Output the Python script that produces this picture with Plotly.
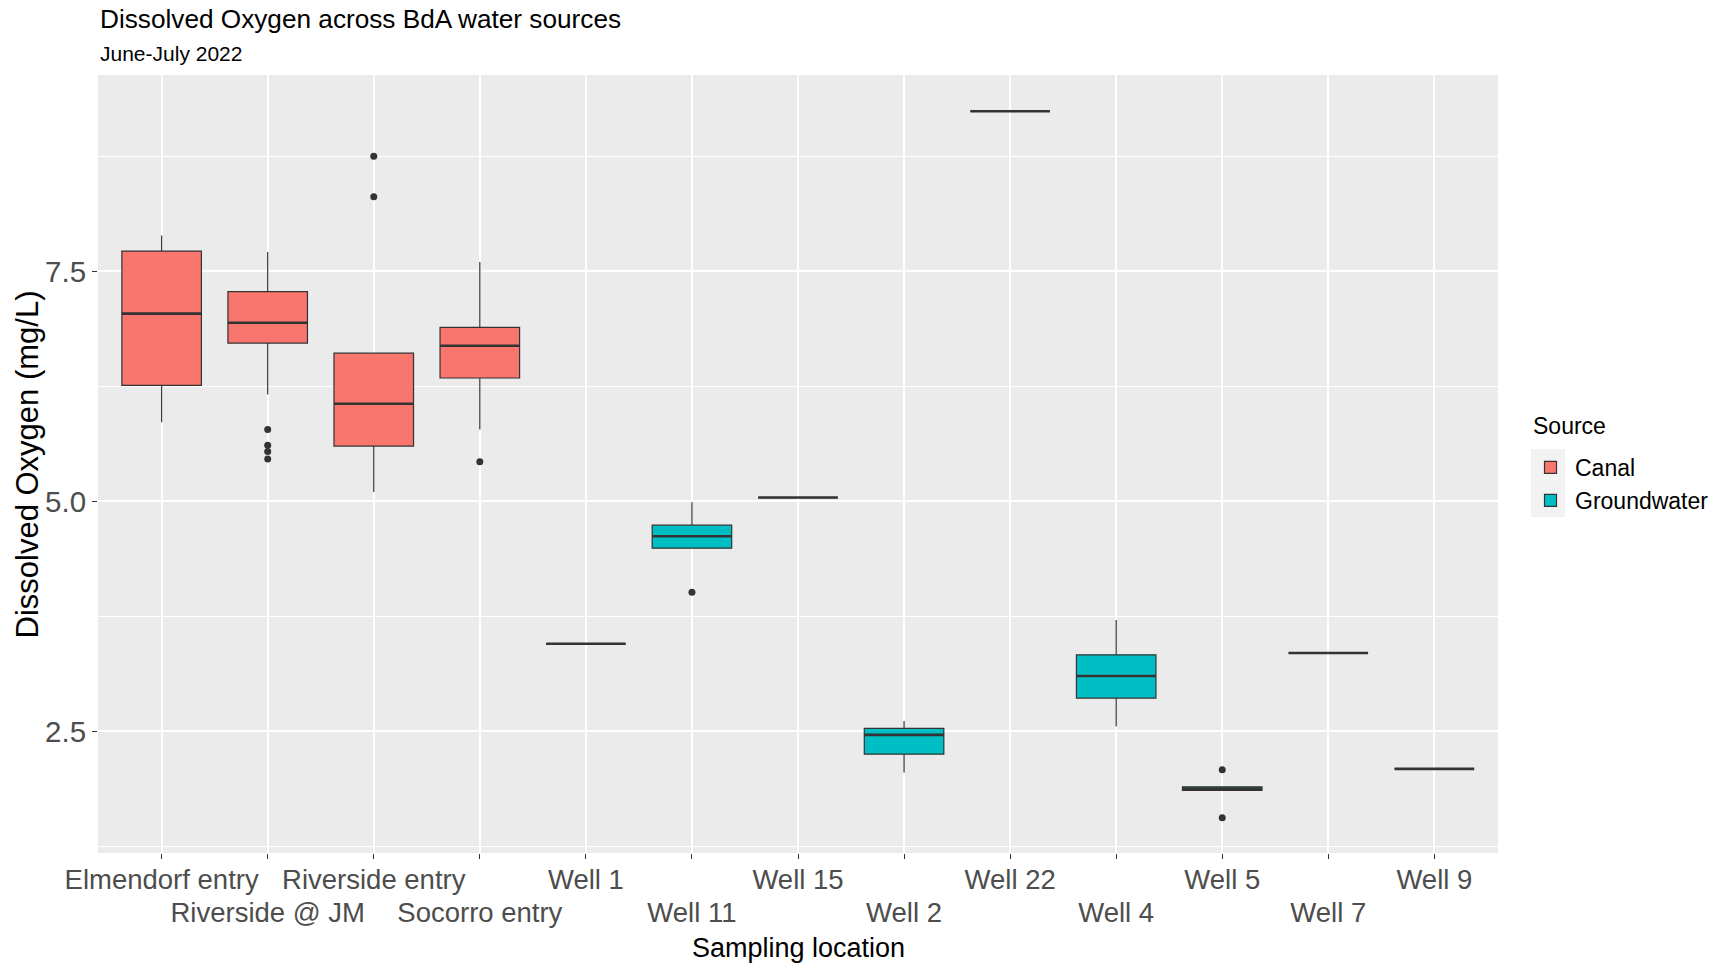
import plotly.graph_objects as go

# Sampling locations and their water source
locations = ["Elmendorf entry", "Riverside @ JM", "Riverside entry", "Socorro entry",
             "Well 1", "Well 11", "Well 15", "Well 2", "Well 22", "Well 4",
             "Well 5", "Well 7", "Well 9"]
sources = ["Canal"] * 4 + ["Groundwater"] * 9

# Box statistics of dissolved oxygen (mg/L) per location
lower_whisker = [5.86, 6.16, 5.10, 5.78, 3.45, 4.49, 5.04, 2.05, 9.24, 2.55, 1.855, 3.35, 2.09]
q1 = [6.26, 6.72, 5.60, 6.34, 3.45, 4.49, 5.04, 2.25, 9.24, 2.86, 1.855, 3.35, 2.09]
median = [7.04, 6.94, 6.06, 6.69, 3.45, 4.62, 5.04, 2.46, 9.24, 3.10, 1.875, 3.35, 2.09]
q3 = [7.72, 7.28, 6.61, 6.89, 3.45, 4.74, 5.04, 2.53, 9.24, 3.33, 1.895, 3.35, 2.09]
upper_whisker = [7.89, 7.71, 6.61, 7.60, 3.45, 4.99, 5.04, 2.61, 9.24, 3.71, 1.895, 3.35, 2.09]

# Outlying observations
outlier_location = ["Riverside @ JM"] * 4 + ["Riverside entry"] * 2 + \
                   ["Socorro entry", "Well 11", "Well 5", "Well 5"]
outlier_value = [5.78, 5.61, 5.54, 5.46, 8.75, 8.31, 5.43, 4.01, 2.08, 1.56]

y_ticks = [2.5, 5.0, 7.5]
y_tick_labels = ["2.5", "5.0", "7.5"]

source_colors = {"Canal": "#F8766D", "Groundwater": "#00BFC4"}
FONT = "Liberation Sans, Arial, sans-serif"
INK = "#333333"
BOX_W = 0.75

pos = {loc: i for i, loc in enumerate(locations)}
x_range = [-0.6, len(locations) - 0.4]

fig = go.Figure()

for src, col in source_colors.items():
    idx = [i for i, s in enumerate(sources) if s == src]
    fig.add_trace(go.Box(
        name=src,
        x=[pos[locations[i]] for i in idx],
        q1=[q1[i] for i in idx],
        median=[median[i] for i in idx],
        q3=[q3[i] for i in idx],
        lowerfence=[lower_whisker[i] for i in idx],
        upperfence=[upper_whisker[i] for i in idx],
        width=BOX_W,
        whiskerwidth=0,
        boxpoints=False,
        fillcolor=col,
        line=dict(color=INK, width=1.2),
        hoverinfo="skip",
    ))

# Thicker median bars
mx, my = [], []
for loc, m in zip(locations, median):
    p = pos[loc]
    mx += [p - BOX_W / 2, p + BOX_W / 2, None]
    my += [m, m, None]
fig.add_trace(go.Scatter(x=mx, y=my, mode="lines", line=dict(color=INK, width=2.6),
                         showlegend=False, hoverinfo="skip"))

# Outlier points
fig.add_trace(go.Scatter(
    x=[pos[l] for l in outlier_location], y=outlier_value, mode="markers",
    marker=dict(color=INK, size=7), showlegend=False, hoverinfo="skip"))

# Category labels dodged over two rows: even positions on the upper row,
# odd positions on a second, overlaid axis pushed one row lower
upper_text = [loc if i % 2 == 0 else "" for i, loc in enumerate(locations)]
lower_vals = [i for i in range(len(locations)) if i % 2 == 1]
lower_text = [locations[i] for i in lower_vals]

# invisible carrier so the second x axis gets drawn
fig.add_trace(go.Scatter(x=lower_vals, y=[median[i] for i in lower_vals], xaxis="x2",
                         mode="markers", marker=dict(opacity=0), showlegend=False,
                         hoverinfo="skip"))

tick_font = dict(size=27.5, color="#4D4D4D")

fig.update_layout(
    width=1723, height=965,
    margin=dict(l=98, r=225, t=75, b=112),
    paper_bgcolor="white",
    plot_bgcolor="#EBEBEB",
    font=dict(family=FONT, color="black"),
    boxmode="overlay",
    showlegend=True,
    legend=dict(
        font=dict(size=23, color="black"),
        xref="container", yref="container",
        x=1526 / 1723, y=1 - 446 / 965, xanchor="left", yanchor="top",
        bgcolor="rgba(0,0,0,0)", itemwidth=39,
    ),
    xaxis=dict(
        range=x_range,
        tickmode="array", tickvals=list(range(len(locations))), ticktext=upper_text,
        tickangle=0, automargin=False, tickfont=tick_font, ticklabelstandoff=-3,
        ticks="outside", ticklen=5, tickwidth=1, tickcolor=INK,
        showgrid=True, gridcolor="white", gridwidth=2,
        zeroline=False, showline=False,
    ),
    xaxis2=dict(
        range=x_range, overlaying="x", anchor="y", side="bottom",
        tickmode="array", tickvals=lower_vals, ticktext=lower_text,
        tickangle=0, automargin=False, tickfont=tick_font,
        ticks="", ticklabelstandoff=40,
        showgrid=False, zeroline=False, showline=False,
    ),
    yaxis=dict(
        range=[1.1755, 9.6345], automargin=False,
        tickmode="array", tickvals=y_ticks, ticktext=y_tick_labels,
        tickfont=dict(size=29.5, color="#4D4D4D"),
        ticks="outside", ticklen=5, tickwidth=1, tickcolor=INK,
        showgrid=True, gridcolor="white", gridwidth=2,
        minor=dict(tickvals=[1.25, 3.75, 6.25, 8.75], showgrid=True,
                   gridcolor="white", gridwidth=1, ticks=""),
        zeroline=False, showline=False,
    ),
    shapes=[
        # light key background behind the legend symbols
        dict(type="rect", xref="paper", yref="paper",
             x0=1 + (1531 - 1498) / 1400, x1=1 + (1565 - 1498) / 1400,
             y0=1 - (517 - 75) / 778, y1=1 - (449 - 75) / 778,
             fillcolor="#F2F2F2", line=dict(width=0), layer="below"),
    ],
    annotations=[
        dict(text="Dissolved Oxygen across BdA water sources", x=0, y=1 + 56 / 777,
             xref="paper", yref="paper", xanchor="left", yanchor="middle",
             showarrow=False, font=dict(size=26.2, color="black")),
        dict(text="June-July 2022", x=0, y=1 + 21 / 777,
             xref="paper", yref="paper", xanchor="left", yanchor="middle",
             showarrow=False, font=dict(size=21, color="black")),
        dict(text="Source", x=1 + (1531 - 1498) / 1400, y=1 - (426 - 75) / 777,
             xref="paper", yref="paper", xanchor="left", yanchor="middle",
             showarrow=False, font=dict(size=23, color="black")),
        # axis titles
        dict(text="Sampling location", x=0.5, y=-(947 - 852) / 777,
             xref="paper", yref="paper", xanchor="center", yanchor="middle",
             showarrow=False, font=dict(size=27, color="black")),
        dict(text="Dissolved Oxygen (mg/L)", x=-(98 - 28) / 1400, y=1 - (464 - 75) / 777,
             xref="paper", yref="paper", xanchor="center", yanchor="middle",
             textangle=-90, showarrow=False, font=dict(size=31, color="black")),
    ],
)

fig.write_html("out.html")
